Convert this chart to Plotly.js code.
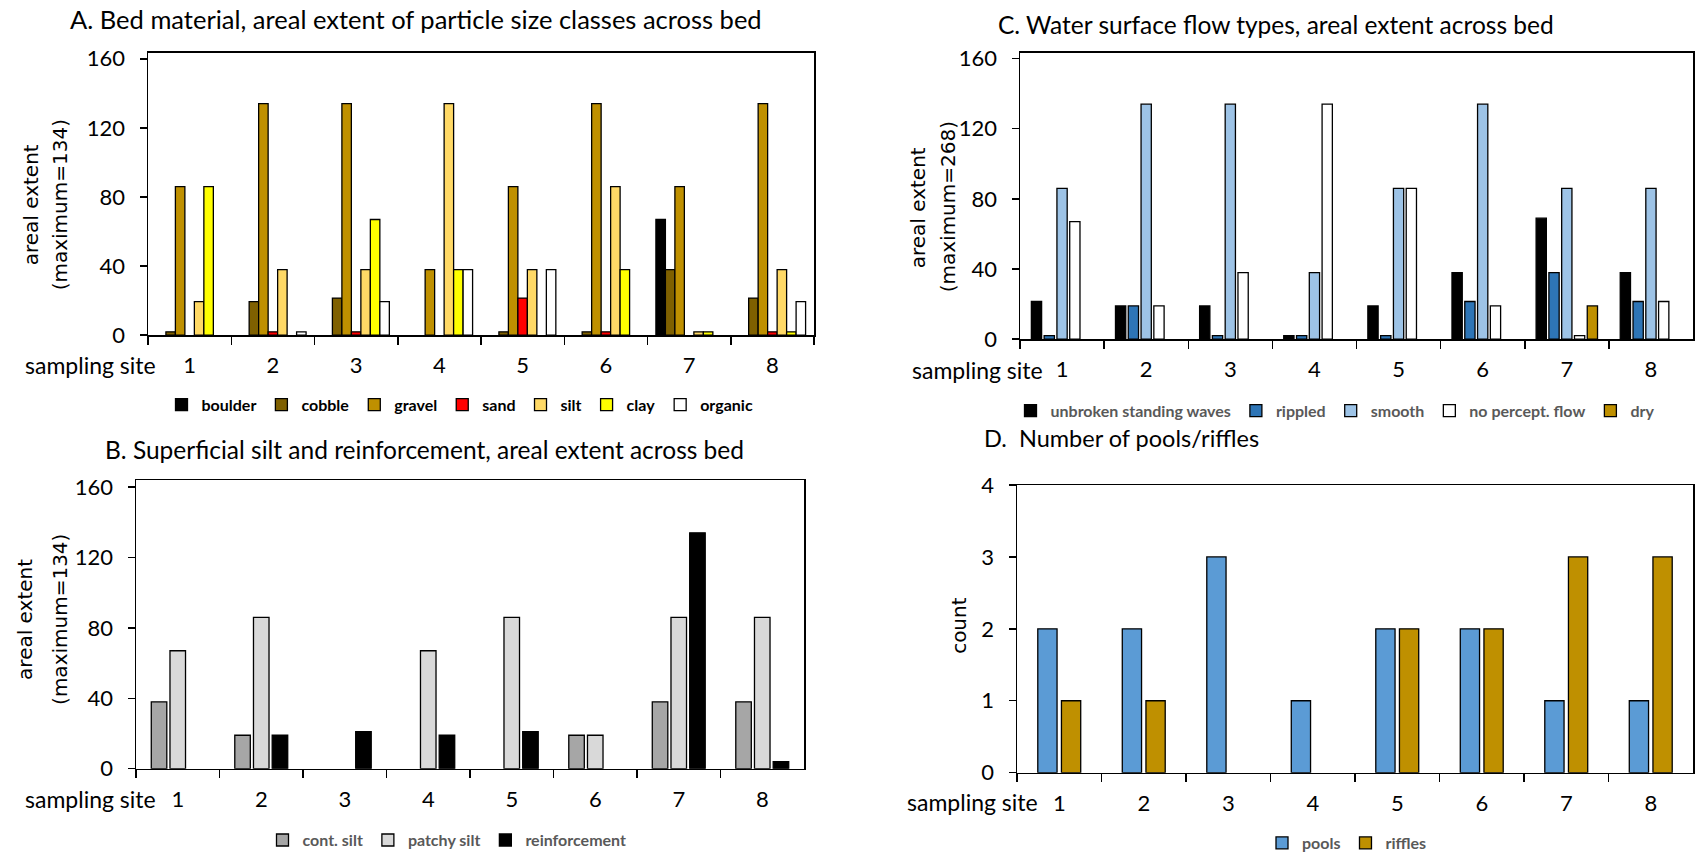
<!DOCTYPE html>
<html>
<head>
<meta charset="utf-8">
<script src="https://cdn.plot.ly/plotly-3.0.1.min.js"></script>
<style>html,body{margin:0;padding:0;background:#fff;}#chart{width:1698px;height:860px;}</style>
</head>
<body>
<div id="chart"></div>
<script>
// ---------- data ----------
const sites = ['1','2','3','4','5','6','7','8'];

// A. Bed material
const bedNames = ['boulder','cobble','gravel','sand','silt','clay','organic'];
const boulder = [0, 0, 0, 0, 0, 0, 67, 0];
const cobble  = [2, 19.5, 21.5, 0, 2, 2, 38, 21.5];
const gravel  = [86, 134, 134, 38, 86, 134, 86, 134];
const sand    = [0, 2, 2, 0, 21.5, 2, 0, 2];
const silt    = [19.5, 38, 38, 134, 38, 86, 2, 38];
const clay    = [86, 0, 67, 38, 0, 38, 2, 2];
const organic = [0, 2, 19.5, 38, 38, 0, 0, 19.5];

// C. Water surface flow types
const flowNames = ['unbroken standing waves','rippled','smooth','no percept. flow','dry'];
const unbroken = [21.5, 19, 19, 2, 19, 38, 69, 38];
const rippled  = [2, 19, 2, 2, 2, 21.5, 38, 21.5];
const smooth   = [86, 134, 134, 38, 86, 134, 86, 86];
const noFlow   = [67, 19, 38, 134, 86, 19, 2, 21.5];
const dry      = [0, 0, 0, 0, 0, 0, 19, 0];

// B. Superficial silt and reinforcement
const siltNames = ['cont. silt','patchy silt','reinforcement'];
const contSilt   = [38, 19, 0, 0, 0, 19, 38, 38];
const patchySilt = [67, 86, 0, 67, 86, 19, 86, 86];
const reinforce  = [0, 19, 21, 19, 21, 0, 134, 4];

// D. Number of pools/riffles
const poolNames = ['pools','riffles'];
const pools   = [2, 2, 3, 1, 2, 2, 1, 1];
const riffles = [1, 1, 0, 0, 2, 2, 3, 3];

const yTicks = [0, 40, 80, 120, 160];
const countTicks = [0, 1, 2, 3, 4];

// ---------- styling ----------
const W = 1698, H = 860;
const px = x => x / W;
const py = y => 1 - y / H;
const TXT = 'Lato, "Open Sans", sans-serif';
const YT = '"DejaVu Sans", Verdana, sans-serif';

function bars(names, series, colors, xa, ya, legendId, pitch, width) {
  const n = series.length;
  return series.map((vals, i) => ({
    type: 'bar', x: sites, y: vals.map(v => (v === 0 ? null : v)), name: names[i],
    xaxis: xa, yaxis: ya, legend: legendId,
    offset: (i - (n - 1) / 2) * pitch - width / 2, width: width,
    marker: {color: colors[i], line: {color: '#000', width: 1.3}},
    hoverinfo: 'skip', showlegend: true
  }));
}

const traces = [].concat(
  bars(bedNames, [boulder, cobble, gravel, sand, silt, clay, organic],
       ['#000000','#7F6000','#BF9000','#FF0000','#FFD966','#FFFF00','#FFFFFF'],
       'x', 'y', 'legend', 0.114, 0.114),
  bars(flowNames, [unbroken, rippled, smooth, noFlow, dry],
       ['#000000','#2E75B6','#9DC3E6','#FFFFFF','#BF9000'],
       'x2', 'y2', 'legend2', 0.152, 0.122),
  bars(siltNames, [contSilt, patchySilt, reinforce],
       ['#A6A6A6','#D9D9D9','#000000'],
       'x3', 'y3', 'legend3', 0.224, 0.186),
  bars(poolNames, [pools, riffles],
       ['#5B9BD5','#BF9000'],
       'x4', 'y4', 'legend4', 0.28, 0.228)
);

function xAxis(d0, d1, anchor) {
  return {
    domain: [px(d0), px(d1)], anchor: anchor, type: 'category',
    range: [-0.5, 7.5], tickson: 'boundaries', ticks: 'outside',
    ticklen: 8, tickwidth: 1.5, tickcolor: '#000',
    showline: true, linecolor: '#000', linewidth: 1.5, mirror: true,
    showgrid: false, zeroline: false, fixedrange: true,
    ticklabelstandoff: 10,
    tickfont: {family: TXT, size: 22, color: '#000'}
  };
}
function yAxis(b, t, range, tv, anchor) {
  return {
    domain: [py(b), py(t)], anchor: anchor, range: range,
    tickvals: tv, ticktext: tv.map(String), ticks: 'outside',
    ticklen: 7, tickwidth: 1.5, tickcolor: '#000',
    showline: true, linecolor: '#000', linewidth: 1.5, mirror: true,
    showgrid: false, zeroline: false, fixedrange: true,
    ticklabelstandoff: 10,
    tickfont: {family: TXT, size: 22, color: '#000'}
  };
}
function legend(cx, cy, color) {
  return {
    orientation: 'h', x: px(cx), xanchor: 'center', y: py(cy), yanchor: 'middle',
    font: {family: TXT, size: 16, color: color, weight: 'bold'},
    bgcolor: 'rgba(0,0,0,0)', itemwidth: 30, traceorder: 'normal',
    itemclick: false, itemdoubleclick: false
  };
}
function ann(text, x, y, opts) {
  return Object.assign({
    text: text, x: px(x), y: py(y), xref: 'paper', yref: 'paper',
    showarrow: false, xanchor: 'left', yanchor: 'middle',
    font: {family: TXT, size: 24.5, color: '#000'}
  }, opts || {});
}
function vann(text, x, y) {
  return ann(text, x, y, {xanchor: 'center', textangle: -90,
    font: {family: YT, size: 20, color: '#000'}});
}
const siteFont = {family: TXT, size: 23, color: '#000'};

const layout = {
  width: W, height: H,
  margin: {l: 0, r: 0, t: 0, b: 0, pad: 0},
  paper_bgcolor: '#fff', plot_bgcolor: '#fff',
  barmode: 'group', hovermode: false,
  xaxis:  xAxis(148, 814, 'y'),
  yaxis:  yAxis(338, 53, [0, 163.6], yTicks, 'x'),
  xaxis2: xAxis(1020, 1693, 'y2'),
  yaxis2: yAxis(342, 53, [0, 163.4], yTicks, 'x2'),
  xaxis3: xAxis(136, 804, 'y3'),
  yaxis3: yAxis(775, 484, [0, 164], yTicks, 'x3'),
  xaxis4: xAxis(1017, 1693, 'y4'),
  yaxis4: yAxis(779, 489, [0, 4], countTicks, 'x4'),
  legend:  legend(460, 408, '#000'),
  legend2: legend(1335, 414, '#595959'),
  legend3: legend(447, 847, '#595959'),
  legend4: legend(1347, 850, '#595959'),
  annotations: [
    ann('A. Bed material, areal extent of particle size classes across bed', 68, 19,
        {font: {family: TXT, size: 25.5, color: '#000'}}),
    ann('C. Water surface flow types, areal extent across bed', 996, 25),
    ann('B. Superficial silt and reinforcement, areal extent across bed', 103, 453),
    ann('D.\u00a0 Number of pools/riffles', 982, 442,
        {font: {family: TXT, size: 23.5, color: '#000'}}),
    ann('sampling site', 158, 368, {xanchor: 'right', font: siteFont}),
    ann('sampling site', 1045, 373, {xanchor: 'right', font: siteFont}),
    ann('sampling site', 158, 806, {xanchor: 'right', font: siteFont}),
    ann('sampling site', 1040, 809, {xanchor: 'right', font: siteFont}),
    vann('areal extent', 31, 207),
    vann('(maximum=134)', 60, 207),
    vann('areal extent', 918, 209),
    vann('(maximum=268)', 948, 209),
    vann('areal extent', 25, 625),
    vann('(maximum=134)', 60, 625),
    vann('count', 959, 631)
  ]
};

Plotly.newPlot('chart', traces, layout, {displayModeBar: false, staticPlot: true, responsive: false});
</script>
</body>
</html>
